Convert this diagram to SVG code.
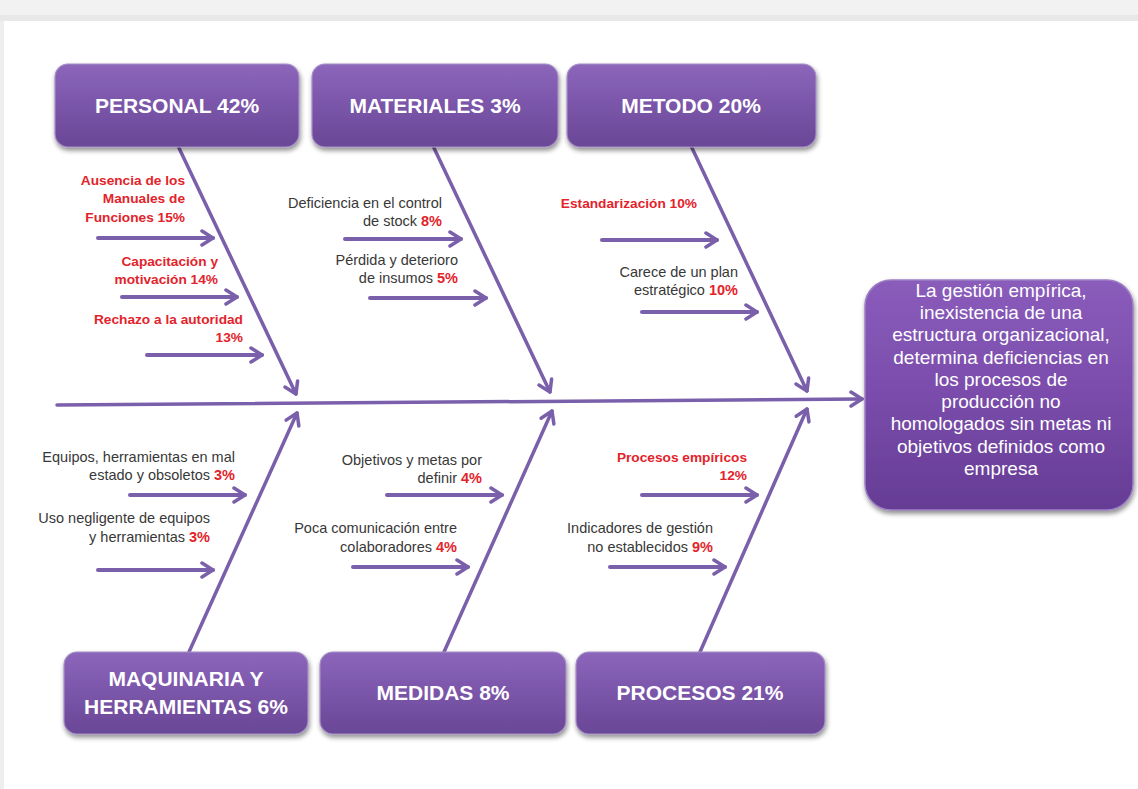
<svg xmlns="http://www.w3.org/2000/svg" width="1138" height="789" viewBox="0 0 1138 789">
  <defs>
    <style>
      .box { fill: url(#boxFill); stroke: #a68fc6; stroke-width: 1.2; filter: url(#shadow); }
      .effect { fill: url(#effectFill); stroke: #9d7fc4; stroke-width: 1.5; filter: url(#shadow); }
      .title { font-family: "Liberation Sans", Arial, sans-serif; font-weight: bold; font-size: 21px; fill: #ffffff; text-anchor: middle; }
      .effect-text { font-family: "Liberation Sans", Arial, sans-serif; font-size: 19px; fill: #ffffff; text-anchor: middle; }
      .cause { font-family: "Liberation Sans", Arial, sans-serif; font-size: 14.5px; fill: #383838; text-anchor: end; }
      .hot { font-weight: bold; fill: #e3232b; }
      .cause.hot { font-size: 13.7px; }
      .bone { stroke: #7a5fab; stroke-width: 3.5; fill: none; stroke-linecap: round; marker-end: url(#head); }
      .twig { stroke: #7a5fab; stroke-width: 4; fill: none; stroke-linecap: round; marker-end: url(#head); }
    </style>
    <linearGradient id="boxFill" x1="0" y1="0" x2="0" y2="1">
      <stop offset="0" stop-color="#8c66bb"/>
      <stop offset="0.5" stop-color="#7a55a9"/>
      <stop offset="1" stop-color="#6a4796"/>
    </linearGradient>
    <linearGradient id="effectFill" x1="0" y1="0" x2="0" y2="1">
      <stop offset="0" stop-color="#8a5cbb"/>
      <stop offset="0.5" stop-color="#7a4cab"/>
      <stop offset="1" stop-color="#653c94"/>
    </linearGradient>
    <filter id="shadow" x="-10%" y="-10%" width="125%" height="130%">
      <feGaussianBlur in="SourceAlpha" stdDeviation="2.5"/>
      <feOffset dx="1" dy="3" result="blur"/>
      <feComponentTransfer><feFuncA type="linear" slope="0.45"/></feComponentTransfer>
      <feMerge><feMergeNode/><feMergeNode in="SourceGraphic"/></feMerge>
    </filter>
    <marker id="head" markerUnits="userSpaceOnUse" viewBox="0 0 16 18" markerWidth="16" markerHeight="18" refX="14" refY="9" orient="auto">
      <path d="M3,2 L14,9 L3,16" fill="none" stroke="#7a5fab" stroke-width="3.5" stroke-linecap="round" stroke-linejoin="round"/>
    </marker>
  </defs>

  <!-- page background -->
  <rect x="0" y="0" width="1138" height="789" fill="#ffffff"/>
  <rect x="0" y="0" width="1138" height="15" fill="#f2f2f2"/>
  <rect x="0" y="15" width="1138" height="6" fill="#e8e8e8"/>
  <rect x="0" y="21" width="4" height="768" fill="#eeeeee"/>

  <!-- spine, bones and cause arrows -->
  <g id="connectors">
    <line class="bone" x1="57" y1="405" x2="862" y2="399"/>
    <line class="bone" x1="179" y1="148" x2="296" y2="394"/>
    <line class="bone" x1="434" y1="148" x2="550" y2="392"/>
    <line class="bone" x1="692" y1="148" x2="807" y2="391"/>
    <line class="bone" x1="189" y1="652" x2="297" y2="413"/>
    <line class="bone" x1="444" y1="652" x2="552" y2="411"/>
    <line class="bone" x1="700" y1="652" x2="807" y2="409"/>

    <line class="twig" x1="98" y1="238" x2="213" y2="238"/>
    <line class="twig" x1="122" y1="297" x2="237" y2="297"/>
    <line class="twig" x1="147" y1="355" x2="262" y2="355"/>
    <line class="twig" x1="345" y1="239" x2="461" y2="239"/>
    <line class="twig" x1="370" y1="298" x2="486" y2="298"/>
    <line class="twig" x1="602" y1="240" x2="717" y2="240"/>
    <line class="twig" x1="642" y1="312" x2="757" y2="312"/>
    <line class="twig" x1="130" y1="495" x2="245" y2="495"/>
    <line class="twig" x1="98" y1="570" x2="213" y2="570"/>
    <line class="twig" x1="387" y1="495" x2="502" y2="495"/>
    <line class="twig" x1="353" y1="567" x2="468" y2="567"/>
    <line class="twig" x1="642" y1="495" x2="757" y2="495"/>
    <line class="twig" x1="610" y1="567" x2="725" y2="567"/>
  </g>

  <!-- category boxes -->
  <g id="personal">
    <rect class="box" x="55" y="64" width="244" height="83" rx="13"/>
    <text class="title" x="177" y="113">PERSONAL 42%</text>
    <text class="cause hot" x="185" y="185">Ausencia de los</text>
    <text class="cause hot" x="185" y="203">Manuales de</text>
    <text class="cause hot" x="185" y="222">Funciones 15%</text>
    <text class="cause hot" x="218" y="266">Capacitación y</text>
    <text class="cause hot" x="218" y="284">motivación 14%</text>
    <text class="cause hot" x="243" y="324">Rechazo a la autoridad</text>
    <text class="cause hot" x="243" y="342">13%</text>
  </g>

  <g id="materiales">
    <rect class="box" x="312" y="64" width="246" height="83" rx="13"/>
    <text class="title" x="435" y="113">MATERIALES 3%</text>
    <text class="cause" x="442" y="208">Deficiencia en el control</text>
    <text class="cause" x="442" y="226">de stock <tspan class="hot">8%</tspan></text>
    <text class="cause" x="458" y="265">Pérdida y deterioro</text>
    <text class="cause" x="458" y="283">de insumos <tspan class="hot">5%</tspan></text>
  </g>

  <g id="metodo">
    <rect class="box" x="567" y="64" width="249" height="83" rx="13"/>
    <text class="title" x="691" y="113">METODO 20%</text>
    <text class="cause hot" x="697" y="208">Estandarización 10%</text>
    <text class="cause" x="738" y="277">Carece de un plan</text>
    <text class="cause" x="738" y="295">estratégico <tspan class="hot">10%</tspan></text>
  </g>

  <g id="maquinaria">
    <rect class="box" x="64" y="652" width="244" height="82" rx="13"/>
    <text class="title" x="186" y="686">MAQUINARIA Y</text>
    <text class="title" x="186" y="714">HERRAMIENTAS 6%</text>
    <text class="cause" x="235" y="462">Equipos, herramientas en mal</text>
    <text class="cause" x="235" y="480">estado y obsoletos <tspan class="hot">3%</tspan></text>
    <text class="cause" x="210" y="523">Uso negligente de equipos</text>
    <text class="cause" x="210" y="542">y herramientas <tspan class="hot">3%</tspan></text>
  </g>

  <g id="medidas">
    <rect class="box" x="320" y="652" width="246" height="82" rx="13"/>
    <text class="title" x="443" y="700">MEDIDAS 8%</text>
    <text class="cause" x="482" y="465">Objetivos y metas por</text>
    <text class="cause" x="482" y="483">definir <tspan class="hot">4%</tspan></text>
    <text class="cause" x="457" y="533">Poca comunicación entre</text>
    <text class="cause" x="457" y="552">colaboradores <tspan class="hot">4%</tspan></text>
  </g>

  <g id="procesos">
    <rect class="box" x="576" y="652" width="249" height="82" rx="13"/>
    <text class="title" x="700" y="700">PROCESOS 21%</text>
    <text class="cause hot" x="747" y="462">Procesos empíricos</text>
    <text class="cause hot" x="747" y="480">12%</text>
    <text class="cause" x="713" y="533">Indicadores de gestión</text>
    <text class="cause" x="713" y="552">no establecidos <tspan class="hot">9%</tspan></text>
  </g>

  <!-- effect -->
  <g id="efecto">
    <rect class="effect" x="865" y="280" width="268" height="230" rx="26"/>
    <text class="effect-text" x="1001" y="297">La gestión empírica,</text>
    <text class="effect-text" x="1001" y="319">inexistencia de una</text>
    <text class="effect-text" x="1001" y="341">estructura organizacional,</text>
    <text class="effect-text" x="1001" y="364">determina deficiencias en</text>
    <text class="effect-text" x="1001" y="386">los procesos de</text>
    <text class="effect-text" x="1001" y="408">producción no</text>
    <text class="effect-text" x="1001" y="430">homologados sin metas ni</text>
    <text class="effect-text" x="1001" y="453">objetivos definidos como</text>
    <text class="effect-text" x="1001" y="475">empresa</text>
  </g>
</svg>
